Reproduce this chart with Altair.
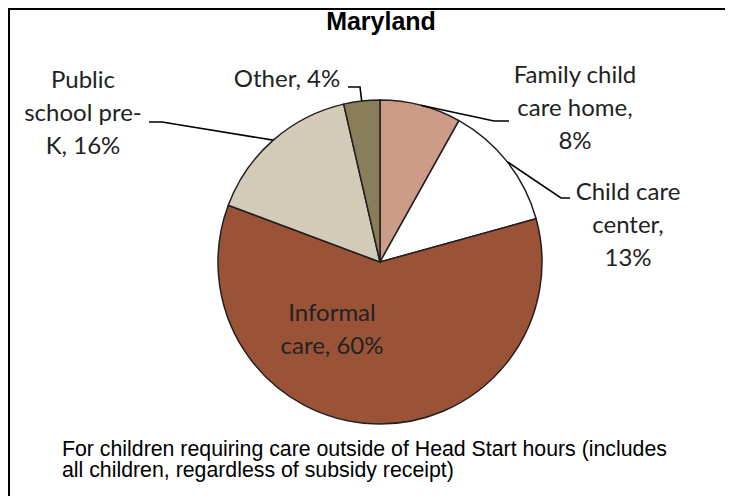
import altair as alt
import numpy as np
import pandas as pd

# ---- data ----
categories = ["Family child care home", "Child care center", "Informal care",
              "Public school pre-K", "Other"]
shares = [8.1, 12.6, 60.0, 15.7, 3.6]          # slice sizes as drawn
pct_labels = [8, 13, 60, 16, 4]                 # printed percentages
label_texts = ["Family child\ncare home,\n8%", "Child care\ncenter,\n13%",
               "Informal\ncare, 60%", "Public\nschool pre-\nK, 16%", "Other, 4%"]
colors = ["#CC9C88", "#FFFFFF", "#9B5337", "#D2CBB8", "#8A7D5A"]
title_text = "Maryland"
note_text = ("For children requiring care outside of Head Start hours (includes\n"
             "all children, regardless of subsidy receipt)")

# ---- layout (pixels inside the view) ----
W, H = 717, 488
CX, CY, R = 372, 254, 162
# position of the first line of each label
label_pos = {
    "Family child care home": (567, 68),
    "Child care center": (620, 185),
    "Informal care": (324, 306),
    "Public school pre-K": (75, 73),
    "Other": (279, 72),
}
leader_elbows = {
    "Family child care home": [(486, 113), (501, 113)],
    "Child care center": [(553, 190), (562, 190)],
    "Public school pre-K": [(154, 114), (141, 114)],
    "Other": [(352, 79), (340, 79)],
}

slices = pd.DataFrame({"category": categories, "share": shares,
                       "order": range(len(categories))})

total = float(np.sum(shares))
cum = np.cumsum(shares)
mids = (cum - np.array(shares) / 2) / total * 2 * np.pi

rows = []
for i, cat in enumerate(categories):
    if cat not in leader_elbows:
        continue
    ax = CX + R * np.sin(mids[i])
    ay = CY - R * np.cos(mids[i])
    pts = [(ax, ay)] + leader_elbows[cat]
    for k, (px, py) in enumerate(pts):
        rows.append({"category": cat, "step": k, "x": px, "y": py})
leaders = pd.DataFrame(rows)

labels = pd.DataFrame({
    "category": categories,
    "text": label_texts,
    "x": [label_pos[c][0] for c in categories],
    "y": [label_pos[c][1] for c in categories],
})

xs = alt.Scale(domain=[0, W], range=[0, W])
ys = alt.Scale(domain=[0, H], range=[0, H])

arcs = alt.Chart(slices).mark_arc(
    radius=R, stroke="#231f20", strokeWidth=1.5
).encode(
    theta=alt.Theta("share:Q", stack=True),
    color=alt.Color("category:N", scale=alt.Scale(domain=categories, range=colors),
                    legend=None),
    order=alt.Order("order:Q"),
    x=alt.value(CX),
    y=alt.value(CY),
)

lines = alt.Chart(leaders).mark_line(color="#000000", strokeWidth=1.6).encode(
    x=alt.X("x:Q", scale=xs, axis=None),
    y=alt.Y("y:Q", scale=ys, axis=None),
    detail="category:N",
    order="step:Q",
)

texts = alt.Chart(labels).mark_text(
    font="Lato", fontSize=24, color="#222222", lineBreak="\n", lineHeight=33,
    align="center", baseline="middle"
).encode(
    x=alt.X("x:Q", scale=xs, axis=None),
    y=alt.Y("y:Q", scale=ys, axis=None),
    text="text:N",
)

title = alt.Chart(pd.DataFrame({"t": [title_text]})).mark_text(
    font="Liberation Sans", fontSize=25, fontWeight="bold", color="#000000",
    align="center", baseline="alphabetic"
).encode(x=alt.value(373), y=alt.value(22), text="t:N")

note = alt.Chart(pd.DataFrame({"t": [note_text]})).mark_text(
    font="Liberation Sans", fontSize=21.3, color="#000000", lineBreak="\n",
    lineHeight=21, align="left", baseline="alphabetic"
).encode(x=alt.value(54), y=alt.value(448), text="t:N")

# chart frame: only its top and left edges fall inside the picture
frame = alt.Chart(pd.DataFrame({"a": [0]})).mark_rect(
    fill="transparent", stroke="#000000", strokeWidth=2
).encode(x=alt.value(1), x2=alt.value(W + 20), y=alt.value(1), y2=alt.value(H + 20))

chart = alt.layer(arcs, lines, texts, title, note, frame).properties(
    width=W, height=H, autosize=alt.AutoSizeParams(type="none"), padding=0,
    background="#FFFFFF"
).configure_view(stroke="transparent", strokeWidth=0)

chart.save("out.html", embed_options={"renderer": "svg", "actions": False})
